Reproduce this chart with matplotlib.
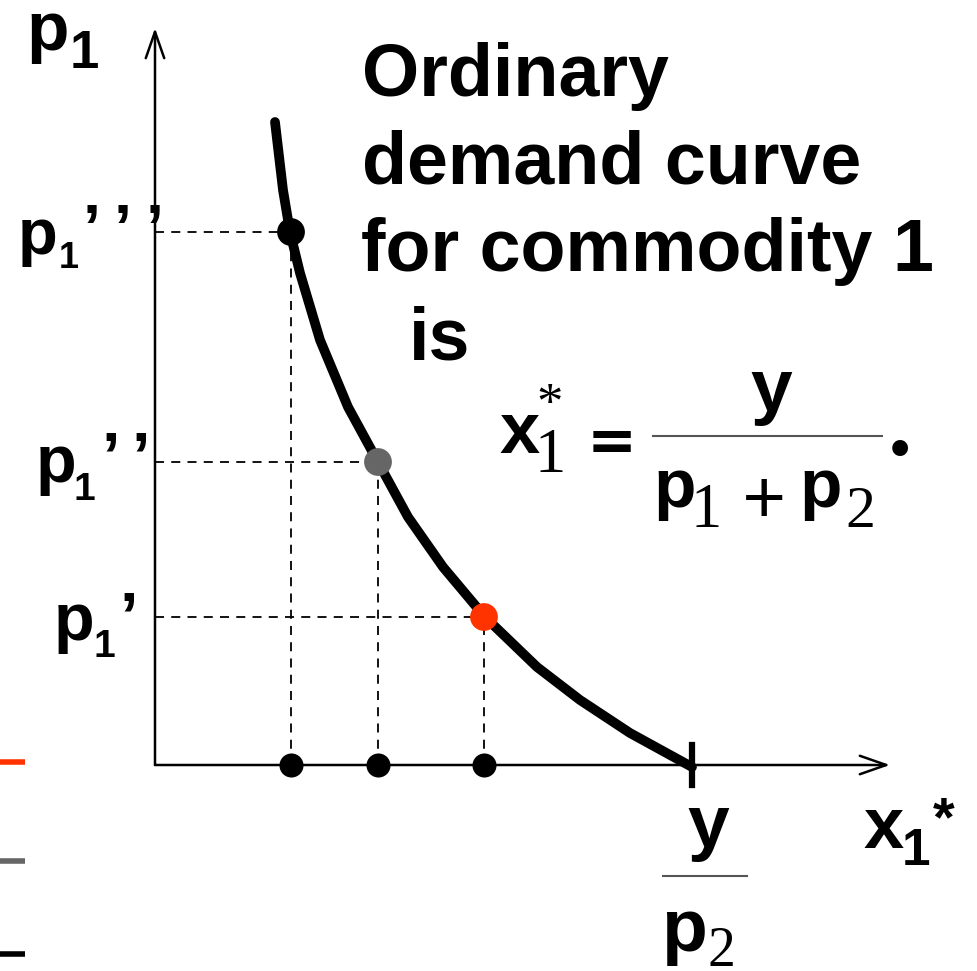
import matplotlib
matplotlib.use("Agg")
import matplotlib.pyplot as plt

# demand curve (x1 units, p1 units; origin at axes corner)
curve_x = [120, 128, 135, 145, 165, 193, 223, 253, 288, 330, 382, 425, 475, 537]
curve_p = [643, 575, 533, 492, 425, 358, 303, 248, 198, 148, 98, 65, 32, -2]

# three price levels p1''', p1'', p1' and the matching demands
x1_vals = [136, 223, 329]
p1_vals = [533, 303, 148]
dot_colors = ["black", "#666666", "#ff3300"]

y_over_p2 = 537      # intercept of curve on x axis
x_axis_end = 735
y_axis_end = 737

# pixel frame of the original slide
X0, Y0 = 155, 765
W, H = 978, 971

fig = plt.figure(figsize=(W / 100, H / 100), dpi=100)
ax = fig.add_axes([0, 0, 1, 1])
ax.set_xlim(-X0, W - X0)
ax.set_ylim(Y0 - H, Y0)
ax.axis("off")


def put(s, px, py, size, family="Liberation Sans", weight="bold", color="black"):
    # place text by its left/baseline, given in slide pixels
    ax.text(px - X0, Y0 - py, s, fontsize=size, family=family, weight=weight,
            color=color, ha="left", va="baseline")


# axes with open arrow heads
arrow = dict(arrowstyle="->,head_length=1.0,head_width=0.35", lw=1.8,
             color="black", shrinkA=0, shrinkB=0, mutation_scale=19)
ax.annotate("", xy=(0, y_axis_end), xytext=(0, 0), arrowprops=arrow)
ax.annotate("", xy=(x_axis_end, 0), xytext=(0, 0), arrowprops=arrow)

# dashed guide lines
for xv, pv in zip(x1_vals, p1_vals):
    ax.plot([0, xv], [pv, pv], ls=(0, (5, 4)), lw=1.3, color="black", zorder=2)
    ax.plot([xv, xv], [0, pv], ls=(0, (5, 4)), lw=1.3, color="black", zorder=2)

# demand curve
ax.plot(curve_x, curve_p, color="black", lw=7, solid_capstyle="round",
        solid_joinstyle="round", zorder=3)

# points on the curve and on the axis
ax.scatter(x1_vals, p1_vals, s=400, c=dot_colors, zorder=4, linewidths=0)
ax.scatter(x1_vals, [0] * 3, s=300, c="black", zorder=4, linewidths=0)

# tick at y/p2
ax.plot([y_over_p2, y_over_p2], [-20, 20], color="black", lw=4.5, zorder=4)

# little colour swatches at the left edge
for py, col in [(762, "#ff3300"), (861, "#666666"), (954, "black")]:
    ax.plot([-X0, -X0 + 25], [Y0 - py, Y0 - py], color=col, lw=4, solid_capstyle="butt")

# axis labels
put("p", 26, 50, 50)
put("1", 70, 68, 38)

put("p", 18, 254, 47)
put("1", 59, 268, 26)
for px in [83, 114, 146]:
    put("\u2019", px, 250, 47)

put("p", 36, 482, 48)
put("1", 74, 500, 28)
for px in [101, 131]:
    put("\u2019", px, 478, 48)

put("p", 54, 640, 48)
put("1", 93, 657, 28)
put("\u2019", 119, 638, 48)

put("x", 864, 848, 52)
put("1", 902, 865, 37)
put("*", 933, 835, 40)

put("y", 687, 847, 54)
ax.plot([663 - X0, 747 - X0], [Y0 - 876, Y0 - 876], color="#555555", lw=1.5)
put("p", 661, 951, 54)
put("2", 708, 966, 40, family="Liberation Serif", weight="normal")

# caption
put("Ordinary", 362, 96, 53)
put("demand curve", 362, 183, 53)
put("for commodity 1", 361, 271, 53)
put("is", 409, 359, 53)

# formula x1* = y / (p1 + p2).
put("x", 500, 453, 52)
put("*", 536, 419, 38, family="Liberation Serif", weight="normal")
put("1", 535, 472, 45, family="Liberation Serif", weight="normal")
put("=", 587, 461, 43, family="DejaVu Sans")
put("y", 750, 411, 54)
ax.plot([653 - X0, 882 - X0], [Y0 - 436, Y0 - 436], color="#555555", lw=1.5)
put("p", 653, 507, 50)
put("1", 691, 527, 45, family="Liberation Serif", weight="normal")
put("+", 742, 524, 56, family="Liberation Serif", weight="bold")
put("p", 799, 507, 50)
put("2", 845, 527, 43, family="Liberation Serif", weight="normal")
put(".", 888, 455, 70, family="Liberation Serif", weight="bold")

fig.savefig("out.png", dpi=100)
